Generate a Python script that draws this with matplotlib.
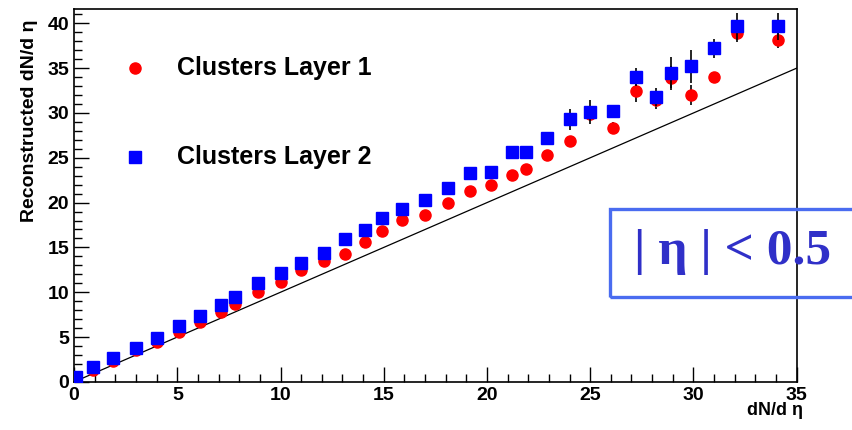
"""再構成された dN/dη と真の dN/dη の比較"""

import matplotlib.pyplot as plt
from matplotlib.patches import Rectangle

# 読み取ったデータ
x_vals = [0.1, 0.9, 1.9, 3.0, 4.0, 5.1, 6.1, 7.1, 7.8, 8.9, 10.0, 11.0,
          12.1, 13.1, 14.1, 14.9, 15.9, 17.0, 18.1, 19.2, 20.2, 21.2, 21.9,
          22.9, 24.0, 25.0, 26.1, 27.2, 28.2, 28.9, 29.9, 31.0, 32.1, 34.1]
layer1 = [0.3, 1.3, 2.3, 3.5, 4.4, 5.6, 6.7, 7.8, 8.7, 10.0, 11.1, 12.5,
          13.5, 14.3, 15.6, 16.8, 18.1, 18.6, 20.0, 21.3, 22.0, 23.1, 23.8,
          25.3, 26.9, 29.9, 28.3, 32.4, 31.4, 33.9, 32.0, 34.0, 38.9, 38.2]
layer1_err = [0.1] * 22 + [0.3, 0.4, 0.5, 0.6, 0.7, 1.2, 1.0, 1.3, 1.1,
                           0.6, 1.0, 1.0]
layer2 = [0.5, 1.7, 2.7, 3.8, 4.9, 6.2, 7.4, 8.6, 9.5, 11.0, 12.2, 13.3,
          14.4, 15.9, 16.9, 18.3, 19.3, 20.3, 21.6, 23.3, 23.4, 25.6, 25.7,
          27.2, 29.3, 30.1, 30.2, 34.0, 31.8, 34.5, 35.2, 37.2, 39.7, 39.7]
layer2_err = [0.1] * 22 + [0.3, 0.5, 1.2, 1.3, 0.7, 1.0, 1.0, 1.7, 1.8,
                           1.1, 1.5, 1.5]

plt.rcParams["font.family"] = ["Liberation Sans", "DejaVu Sans"]
plt.rcParams["font.weight"] = "bold"

fig = plt.figure(figsize=(8.52, 4.30), dpi=100)
ax = fig.add_axes([0.087, 0.112, 0.848, 0.867])

# 対角線 y = x
ax.plot([0, 35], [0, 35], color="black", lw=0.9)

ax.errorbar(x_vals, layer1, yerr=layer1_err, fmt="o", color="red",
            ecolor="black", elinewidth=1.2, markersize=8, zorder=3)
ax.errorbar(x_vals, layer2, yerr=layer2_err, fmt="s", color="blue",
            ecolor="black", elinewidth=1.2, markersize=8.5, zorder=4)

ax.set_xlim(0, 35)
ax.set_ylim(0, 41.6)
ax.set_xticks(range(0, 36, 5))
ax.set_xticks(range(0, 36), minor=True)
ax.set_yticks(range(0, 41, 5))
ax.set_yticks(range(0, 42), minor=True)
ax.tick_params(which="both", direction="in", top=False, right=False,
               labelsize=14, width=1.0)
ax.tick_params(which="major", length=11)
ax.tick_params(which="minor", length=6)
for s in ax.spines.values():
    s.set_linewidth(1.2)

ax.set_ylabel("Reconstructed dN/d η", fontsize=14, fontweight="bold")
ax.yaxis.set_label_coords(-0.05, 0.7)
ax.set_xlabel("dN/d η", fontsize=13, fontweight="bold")
ax.xaxis.set_label_coords(0.97, -0.055)

# 凡例
ax.plot([2.95], [35.0], "o", color="red", markersize=8)
ax.text(5.0, 35.0, "Clusters Layer 1", fontsize=18, fontweight="bold",
        va="center")
ax.plot([2.95], [25.1], "s", color="blue", markersize=8)
ax.text(5.0, 25.1, "Clusters Layer 2", fontsize=18, fontweight="bold",
        va="center")

# |η| < 0.5 の枠
fig.patches.append(Rectangle((610 / 852, 133 / 430), 0.3, 88 / 430,
                             transform=fig.transFigure, fill=False,
                             edgecolor="#4a6cf0", lw=2.4))
fig.text(733 / 852, 178 / 430, "| η | < 0.5", fontsize=37,
         fontweight="bold", family=["Liberation Serif", "DejaVu Serif"],
         color="#3030c8", ha="center", va="center")

fig.savefig("out.png", dpi=100)
